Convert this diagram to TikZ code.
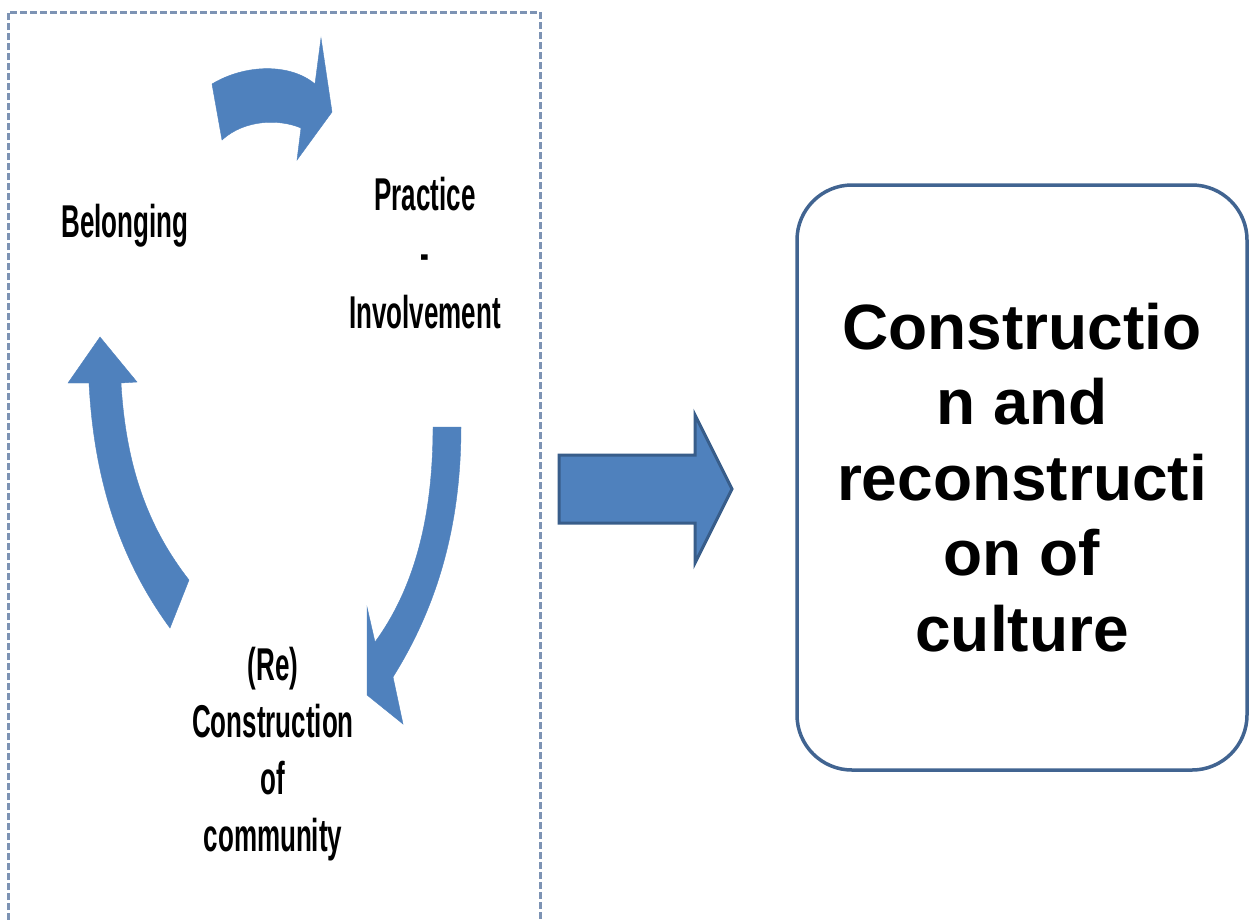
\documentclass[tikz,border=0pt]{standalone}
\usepackage{fontspec}
\setmainfont{Liberation Sans}
\newfontfamily\cyclefont[FakeStretch=0.565]{Liberation Sans}
\definecolor{cyclearrow}{RGB}{79, 129, 189}
\definecolor{flowfill}{RGB}{79, 129, 189}
\definecolor{flowline}{RGB}{56, 93, 138}
\definecolor{panelline}{RGB}{125, 147, 180}
\definecolor{boxline}{RGB}{65, 100, 145}

\begin{document}
\begin{tikzpicture}[x=1pt, y=-1pt,
	cyclelabel/.style={inner sep=0pt, align=center, font=\cyclefont\bfseries\fontsize{46}{57}\selectfont},
	culturebox/.style={draw=boxline, line width=3.5pt, rounded corners=55pt, minimum width=450pt, minimum height=585pt, align=center, inner sep=0pt, font=\bfseries\fontsize{64}{75.5}\selectfont}]
			\useasboundingbox (0, 0) rectangle (1257, 919);
			\fill [white] (0, 0) rectangle (1257, 919);
			\draw [panelline, line width=3pt, dash pattern=on 7pt off 3pt] (8, 930) -- (8, 12) -- (540, 12) -- (540, 930);
			\filldraw [draw=cyclearrow, fill=cyclearrow] (212, 84) .. controls (245, 64) and (290, 63) .. (315, 84) -- (321, 38) -- (332, 112) -- (297, 160) -- (301, 128) .. controls (280, 119) and (245, 119) .. (222, 140) -- cycle;
			\filldraw [draw=cyclearrow, fill=cyclearrow] (100, 337) -- (137, 382) -- (121, 383) .. controls (126, 470) and (150, 530) .. (189, 580) -- (170, 628) .. controls (120, 560) and (94, 480) .. (89, 383) -- (68, 383) -- cycle;
			\filldraw [draw=cyclearrow, fill=cyclearrow] (433, 427) -- (461, 427) .. controls (461, 530) and (435, 610) .. (393, 677) -- (403, 724) -- (367, 695) -- (367, 607) -- (375, 642) .. controls (413, 590) and (433, 520) .. (433, 427) -- cycle;
			\node [cyclelabel, anchor=base] (belong) at (125, 237) {Belonging};
			\node [cyclelabel, anchor=north, font=\cyclefont\bfseries\fontsize{46}{59}\selectfont] (practice) at (425, 177) {Practice\\-\\Involvement};
			\node [cyclelabel, anchor=north] (recon) at (273, 647) {(Re)\\Construction\\of\\community};
			\filldraw [draw=flowline, fill=flowfill, line width=3pt] (559, 455) -- (695, 455) -- (695, 415) -- (732, 489) -- (695, 563) -- (695, 523) -- (559, 523) -- cycle;
			\node [culturebox] (culture) at (1022, 477.5) {Constructio\\n and\\reconstructi\\on of\\culture};
		\end{tikzpicture}
\end{document}
